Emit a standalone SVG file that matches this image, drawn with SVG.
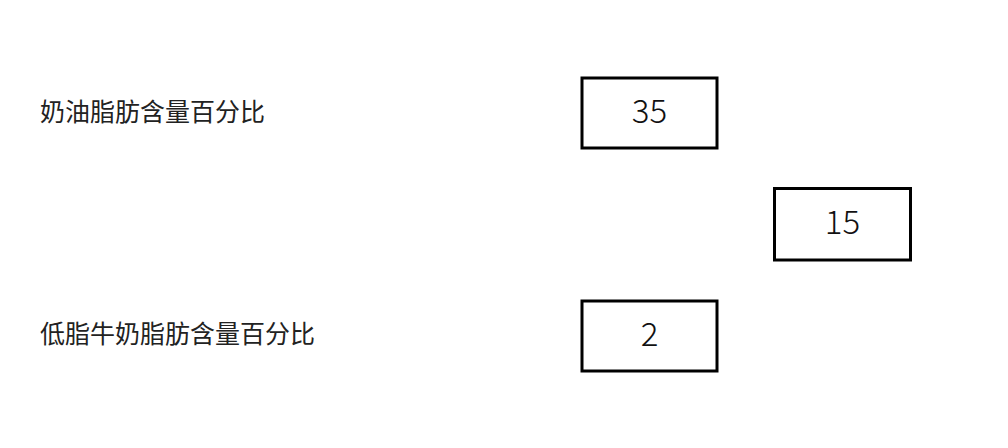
<svg xmlns="http://www.w3.org/2000/svg" width="1008" height="448" viewBox="0 0 1008 448">
<style>
.box{fill:#ffffff;stroke:#000000;stroke-width:3}
.lbl{font-family:"Noto Sans CJK SC","Noto Sans CJK JP",sans-serif;font-size:25px;fill:#222222;dominant-baseline:central}
.num{font-family:"Noto Sans CJK JP","Noto Sans",sans-serif;font-size:33px;font-weight:300;fill:#111111;text-anchor:middle;dominant-baseline:central}
</style>
<rect width="1008" height="448" fill="#ffffff"/>
<g id="label-cream"><text class="lbl" x="40" y="110">奶油脂肪含量百分比</text></g>
<g id="label-lowfat"><text class="lbl" x="40" y="332">低脂牛奶脂肪含量百分比</text></g>
<g id="node-35"><rect class="box" x="582" y="78" width="135" height="70"/><text class="num" x="649.5" y="108.5">35</text></g>
<g id="node-15"><rect class="box" x="774.5" y="188.5" width="136" height="71.5"/><text class="num" x="842.5" y="220">15</text></g>
<g id="node-2"><rect class="box" x="582" y="301" width="135" height="70"/><text class="num" x="649.5" y="331.5">2</text></g>
<g id="connectors"></g>
</svg>
